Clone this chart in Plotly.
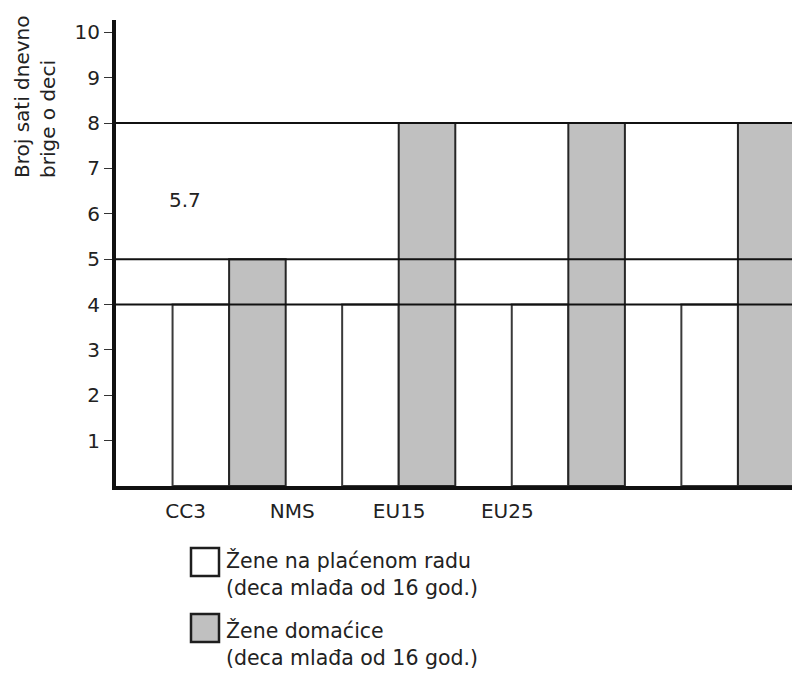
import plotly.graph_objects as go

# ---- data ----
categories = ["CC3", "NMS", "EU15", "EU25"]
group_index = [0, 1, 2, 3]
paid_work = [4, 4, 4, 4]
housewives = [5, 8, 8, 8]
series_names = ["Žene na plaćenom radu", "Žene domaćice"]
series_sub = "(deca mlađa od 16 god.)"
y_tick_values = [1, 2, 3, 4, 5, 6, 7, 8, 9, 10]
grid_values = [4, 5, 8]
category_label_pos = [-0.257, 0.372, 1.003, 1.64]
note_text = "5.7"
note_x, note_y = -0.26, 6.3
y_title = "Broj sati dnevno<br>brige o deci"

# ---- layout geometry (page body has an 8px margin) ----
OFF = 8
W, H = 800 - OFF, 673 - OFF
ML, MR, MT = 116 - OFF, 0, 20 - OFF
MB = H - (486 - OFF)
PW, PH = W - ML - MR, H - MT - MB
FONT = "'DejaVu Sans', sans-serif"
TXT = "#222222"


def px(x):
    """reference pixel x -> paper"""
    return (x - OFF - ML) / PW


def py(y):
    """reference pixel y -> paper"""
    return (H - MB - (y - OFF)) / PH


fig = go.Figure()
fig.add_trace(go.Bar(x=group_index, y=paid_work, name=series_names[0],
                     marker=dict(color="white", line=dict(color="#3a3a3a", width=2)),
                     showlegend=False))
fig.add_trace(go.Bar(x=group_index, y=housewives, name=series_names[1],
                     marker=dict(color="#c0c0c0", line=dict(color="#262626", width=2)),
                     showlegend=False))

shapes = []
for g in grid_values:
    shapes.append(dict(type="line", xref="paper", yref="y", x0=0, x1=1, y0=g, y1=g,
                       line=dict(color="#111111", width=2), layer="above"))

# legend drawn manually
legend_items = [("white", 562, 560), ("#c0c0c0", 628, 630)]
annotations = []
for (fill, box_cy, txt_cy), name in zip(legend_items, series_names):
    shapes.append(dict(type="rect", xref="paper", yref="paper",
                       x0=px(191), x1=px(219), y0=py(box_cy - 14), y1=py(box_cy + 14),
                       fillcolor=fill, line=dict(color="#1e1e1e", width=2.5)))
    annotations.append(dict(x=px(224), y=py(txt_cy), xref="paper", yref="paper", text=name,
                            showarrow=False, xanchor="left", yanchor="middle",
                            font=dict(size=20.5, family=FONT, color=TXT)))
    annotations.append(dict(x=px(224), y=py(txt_cy + 28), xref="paper", yref="paper", text=series_sub,
                            showarrow=False, xanchor="left", yanchor="middle",
                            font=dict(size=20.5, family=FONT, color=TXT)))

annotations.append(dict(x=note_x, y=note_y, xref="x", yref="y", text=note_text, showarrow=False,
                        xanchor="center", yanchor="middle",
                        font=dict(size=20, family=FONT, color=TXT)))
annotations.append(dict(x=px(35), y=py(97), xref="paper", yref="paper", text=y_title,
                        textangle=-90, showarrow=False, align="left",
                        xanchor="center", yanchor="middle",
                        font=dict(size=20, family=FONT, color=TXT)))

fig.update_layout(
    width=W, height=H,
    margin=dict(l=ML, r=MR, t=MT, b=MB),
    plot_bgcolor="white", paper_bgcolor="white",
    barmode="group", bargap=0.333, bargroupgap=0,
    font=dict(family=FONT, size=20, color=TXT),
    shapes=shapes, annotations=annotations,
    xaxis=dict(range=[-0.667, 3.366], showgrid=False, zeroline=False,
               showline=True, linecolor="#111111", linewidth=4,
               tickmode="array", tickvals=category_label_pos, ticktext=categories,
               ticks="", ticklabelstandoff=4,
               tickfont=dict(size=20, family=FONT, color=TXT)),
    yaxis=dict(range=[0, 10.27], showgrid=False, zeroline=False,
               showline=True, linecolor="#111111", linewidth=4,
               tickmode="array", tickvals=y_tick_values,
               ticks="outside", ticklen=8, tickwidth=1, tickcolor="#333333",
               ticklabelstandoff=0,
               tickfont=dict(size=20, family=FONT, color=TXT)),
)

fig.write_html("out.html")
